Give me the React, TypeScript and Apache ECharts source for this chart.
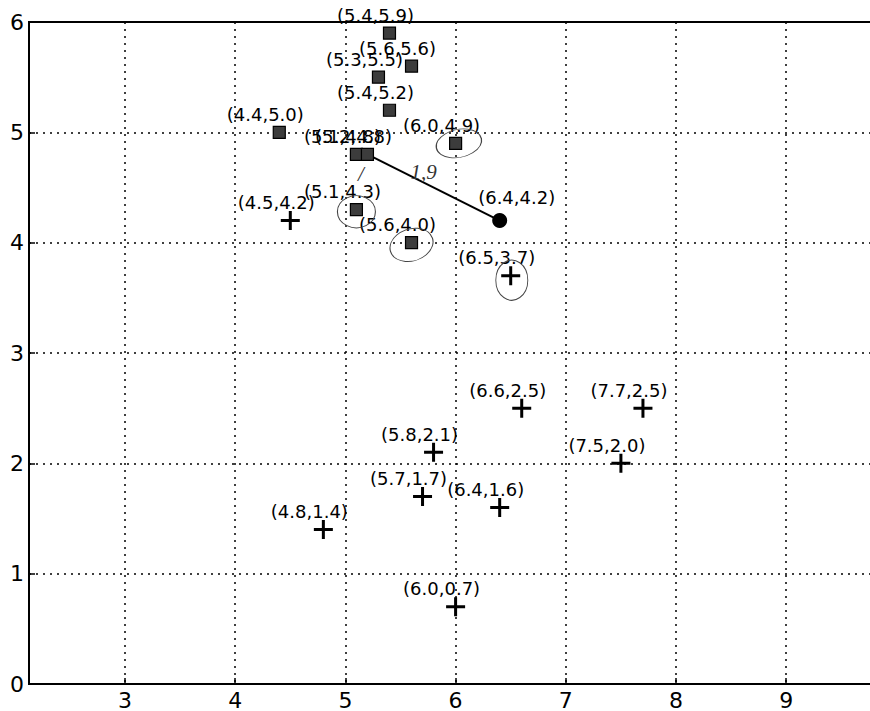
import React, { useEffect, useRef } from "react";
import * as echarts from "echarts";

// Class 1 (squares)
const squareX = [5.4, 5.6, 5.3, 5.4, 4.4, 6.0, 5.1, 5.2, 5.1, 5.6];
const squareY = [5.9, 5.6, 5.5, 5.2, 5.0, 4.9, 4.8, 4.8, 4.3, 4.0];
// Class 2 (plus signs)
const plusX = [4.5, 6.5, 6.6, 7.7, 5.8, 7.5, 5.7, 6.4, 4.8, 6.0];
const plusY = [4.2, 3.7, 2.5, 2.5, 2.1, 2.0, 1.7, 1.6, 1.4, 0.7];
// Test point and its nearest neighbour
const testX = [6.4];
const testY = [4.2];
const neighbourX = [5.2, 6.4];
const neighbourY = [4.8, 4.2];
// Tick labels
const xTicks = [3, 4, 5, 6, 7, 8, 9];
const yTicks = [0, 1, 2, 3, 4, 5, 6];
// Hand-drawn pen marks on the scan (ellipses around some points)
const penEllipseX = [6.03, 5.1, 5.6, 6.51];
const penEllipseY = [4.9, 4.28, 3.98, 3.66];
const penEllipseW = [46, 38, 44, 32];
const penEllipseH = [28, 32, 32, 40];
const penEllipseRot = [12, 0, 18, 0];
const penTextX = [5.71, 5.14];
const penTextY = [4.64, 4.62];
const penText = ["1,9", "/"];

const FONT = "DejaVu Sans";
const fmt = (x: number, y: number) => `(${x.toFixed(1)},${y.toFixed(1)})`;
const PLUS = "path://M8,0H11V8H19V11H11V19H8V11H0V8H8Z";

export default function App() {
  const ref = useRef<HTMLDivElement>(null);
  useEffect(() => {
    if (!ref.current) return;
    const chart = echarts.init(ref.current, undefined, { renderer: "svg" });
    const labelStyle = {
      show: true,
      position: "inside" as const,
      offset: [-14, -18],
      color: "#000",
      fontFamily: FONT,
      fontSize: 18,
      formatter: (p: any) => fmt(p.value[0], p.value[1]),
    };
    chart.setOption({
      animation: false,
      backgroundColor: "#fff",
      grid: {
        left: 29,
        top: 22,
        right: 0,
        bottom: 27,
        show: true,
        borderColor: "#000",
        borderWidth: 2,
        backgroundColor: "transparent",
      },
      xAxis: {
        type: "value",
        min: 2.129,
        max: 9.851,
        axisLine: { show: true, lineStyle: { color: "#000", width: 2 } },
        axisTick: { show: true, inside: true, length: 6, customValues: xTicks, lineStyle: { color: "#000", width: 1.5 } },
        axisLabel: {
          customValues: xTicks,
          color: "#000",
          fontFamily: FONT,
          fontSize: 22,
          margin: 5,
          formatter: (v: number) => String(v),
        },
        splitLine: { show: true, lineStyle: { color: "#000", type: [2, 5], width: 1.5 } },
      },
      yAxis: {
        type: "value",
        min: 0,
        max: 6,
        interval: 1,
        axisLine: { show: true, lineStyle: { color: "#000", width: 2 } },
        axisTick: { show: true, inside: true, length: 6, lineStyle: { color: "#000", width: 1.5 } },
        axisLabel: {
          color: "#000",
          fontFamily: FONT,
          fontSize: 22,
          margin: 5,
          formatter: (v: number) => (yTicks.includes(v) ? String(v) : ""),
        },
        splitLine: { show: true, lineStyle: { color: "#000", type: [2, 5], width: 1.5 } },
      },
      series: [
        {
          name: "neighbour",
          type: "line",
          data: neighbourX.map((x, i) => [x, neighbourY[i]]),
          symbol: "none",
          lineStyle: { color: "#000", width: 2 },
          z: 3,
        },
        {
          name: "class1",
          type: "scatter",
          data: squareX.map((x, i) => [x, squareY[i]]),
          symbol: "rect",
          symbolSize: 12,
          itemStyle: { color: "#3c3c3c", borderColor: "#000", borderWidth: 1.2, opacity: 1 },
          label: labelStyle,
          z: 4,
        },
        {
          name: "class2",
          type: "scatter",
          data: plusX.map((x, i) => [x, plusY[i]]),
          symbol: PLUS,
          symbolSize: 19,
          itemStyle: { color: "#000", opacity: 1 },
          label: labelStyle,
          z: 4,
        },
        {
          name: "test",
          type: "scatter",
          data: testX.map((x, i) => [x, testY[i]]),
          symbol: "circle",
          symbolSize: 15,
          itemStyle: { color: "#000", opacity: 1 },
          label: { ...labelStyle, offset: [17, -23] },
          z: 5,
        },
        {
          name: "penEllipses",
          type: "scatter",
          data: penEllipseX.map((x, i) => ({
            value: [x, penEllipseY[i]],
            symbolSize: [penEllipseW[i], penEllipseH[i]],
            symbolRotate: penEllipseRot[i],
          })),
          symbol: "circle",
          itemStyle: { color: "rgba(0,0,0,0)", borderColor: "#444", borderWidth: 1, opacity: 1 },
          silent: true,
          z: 6,
        },
        {
          name: "penText",
          type: "scatter",
          data: penTextX.map((x, i) => ({ value: [x, penTextY[i]], name: penText[i] })),
          symbol: "circle",
          symbolSize: 1,
          itemStyle: { color: "rgba(0,0,0,0)", opacity: 1 },
          label: {
            show: true,
            position: "inside",
            formatter: (p: any) => p.name,
            color: "#333",
            fontFamily: "Liberation Serif",
            fontStyle: "italic",
            fontSize: 21,
          },
          silent: true,
          z: 6,
        },
      ],
    });
    return () => chart.dispose();
  }, []);
  return (
    <div
      ref={ref}
      style={{ position: "fixed", left: 0, top: 0, width: 880, height: 711, background: "#fff" }}
    />
  );
}
